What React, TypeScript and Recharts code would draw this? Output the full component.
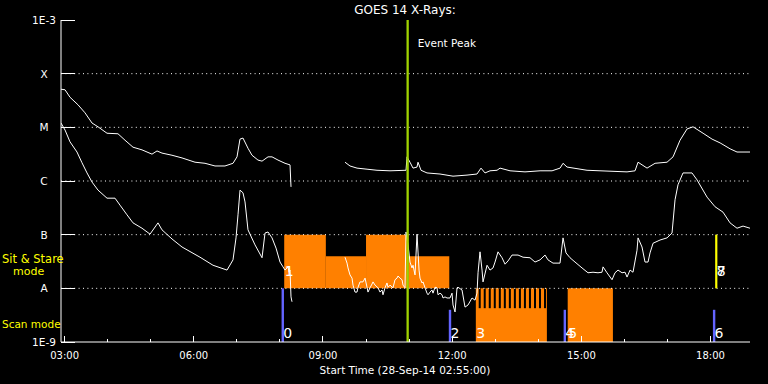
import React from 'react';
import {
  ComposedChart,
  Line,
  XAxis,
  YAxis,
  ReferenceArea,
  ReferenceLine,
  ReferenceDot,
} from 'recharts';

// GOES 14 X-ray flux, [hour UT, log10 flux W/m^2], 28-Sep-14
const longChannel: [number, number | null][] = [
  [2.917, -4.29], [3.01, -4.3], [3.126, -4.44], [3.311, -4.58], [3.474, -4.73], [3.637, -4.92],
  [3.776, -4.99], [3.985, -5.11], [4.24, -5.12], [4.403, -5.24], [4.589, -5.37], [4.798, -5.42],
  [5.03, -5.5], [5.146, -5.44], [5.262, -5.48], [5.494, -5.52], [5.727, -5.57], [6.029, -5.65],
  [6.261, -5.67], [6.493, -5.72], [6.725, -5.72], [6.911, -5.67], [7.004, -5.55], [7.073, -5.22],
  [7.143, -5.2], [7.259, -5.39], [7.352, -5.52], [7.491, -5.61], [7.585, -5.63], [7.724, -5.55],
  [7.817, -5.55], [7.956, -5.61], [8.119, -5.67], [8.235, -5.7], [8.258, -6.11], [8.9, null],
  [9.512, -5.65], [9.628, -5.72], [9.791, -5.76], [10.023, -5.78], [10.255, -5.8], [10.557, -5.81],
  [10.929, -5.8], [10.952, -5.55], [11.021, -5.65], [11.091, -5.76], [11.184, -5.74], [11.207, -5.65],
  [11.277, -5.8], [11.416, -5.85], [11.718, -5.87], [12.02, -5.91], [12.345, -5.89], [12.577, -5.87],
  [12.67, -5.76], [12.763, -5.85], [12.879, -5.81], [13.042, -5.8], [13.112, -5.76], [13.344, -5.81],
  [13.692, -5.83], [14.041, -5.81], [14.32, -5.81], [14.506, -5.76], [14.575, -5.67], [14.668, -5.74],
  [15.132, -5.8], [16.061, -5.83], [16.247, -5.81], [16.317, -5.65], [16.526, -5.76], [16.712, -5.67],
  [16.99, -5.65], [17.13, -5.55], [17.292, -5.24], [17.455, -5.03], [17.594, -4.99], [17.827, -5.11],
  [18.036, -5.22], [18.222, -5.29], [18.454, -5.4], [18.615, -5.46], [18.917, -5.46],
];

const shortChannel: [number, number | null][] = [
  [2.917, -4.92], [3.01, -5.05], [3.126, -5.27], [3.288, -5.46], [3.404, -5.66], [3.521, -5.85],
  [3.637, -6.02], [3.776, -6.17], [3.985, -6.32], [4.171, -6.32], [4.287, -6.45], [4.449, -6.63],
  [4.589, -6.78], [4.798, -6.88], [4.984, -6.99], [5.169, -6.78], [5.262, -6.91], [5.494, -7.08],
  [5.727, -7.23], [6.145, -7.42], [6.447, -7.57], [6.772, -7.66], [6.911, -7.47], [6.981, -7.06],
  [7.027, -6.63], [7.074, -6.17], [7.143, -6.22], [7.19, -6.39], [7.259, -6.91], [7.422, -7.19],
  [7.585, -7.43], [7.654, -6.97], [7.724, -6.95], [7.817, -7.06], [7.91, -7.25], [8.003, -7.51],
  [8.072, -7.6], [8.119, -7.66], [8.188, -7.6], [8.212, -7.7], [8.235, -7.66], [8.258, -8.16],
  [8.281, -8.25], [8.9, null],
  [9.512, -7.42], [9.559, -7.53], [9.582, -7.62], [9.628, -7.75], [9.675, -7.81], [9.698, -7.94],
  [9.744, -8.07], [9.791, -8.07], [9.814, -7.98], [9.86, -7.88], [9.93, -7.88], [9.977, -7.81],
  [10.023, -7.98], [10.046, -8.07], [10.093, -7.99], [10.139, -7.92], [10.162, -7.88], [10.209, -7.94],
  [10.278, -7.99], [10.325, -8.07], [10.371, -8.03], [10.394, -8.12], [10.441, -7.99], [10.487, -7.9],
  [10.511, -7.98], [10.557, -7.94], [10.627, -7.99], [10.673, -7.84], [10.72, -7.81], [10.743, -7.77],
  [10.789, -7.81], [10.836, -7.84], [10.859, -7.94], [10.905, -7.99], [10.929, -6.95], [10.975, -7.19],
  [11.021, -7.51], [11.068, -7.62], [11.091, -7.57], [11.138, -7.75], [11.184, -6.99], [11.231, -7.66],
  [11.254, -7.81], [11.3, -7.9], [11.324, -7.88], [11.37, -7.99], [11.416, -8.09], [11.44, -8.12],
  [11.486, -8.07], [11.532, -8.03], [11.556, -8.09], [11.602, -7.98], [11.649, -7.99], [11.672, -8.12],
  [11.718, -8.09], [11.765, -8.12], [11.788, -8.18], [11.834, -8.16], [11.881, -8.18], [11.95, -8.18],
  [11.997, -8.09], [12.02, -8.31], [12.067, -8.44], [12.113, -7.99], [12.136, -7.98], [12.229, -8.03],
  [12.299, -8.35], [12.369, -8.31], [12.461, -8.18], [12.531, -8.22], [12.577, -8.09], [12.601, -7.71],
  [12.647, -7.32], [12.694, -7.66], [12.717, -7.88], [12.81, -7.57], [12.879, -7.66], [12.949, -7.62],
  [12.996, -7.51], [13.065, -7.32], [13.158, -7.43], [13.228, -7.55], [13.298, -7.49], [13.39, -7.38],
  [13.53, -7.38], [13.646, -7.42], [13.808, -7.43], [13.924, -7.51], [14.041, -7.47], [14.157, -7.38],
  [14.226, -7.47], [14.342, -7.53], [14.505, -7.53], [14.575, -7.06], [14.644, -7.34], [14.737, -7.43],
  [14.853, -7.51], [15.016, -7.62], [15.155, -7.71], [15.271, -7.7], [15.387, -7.71], [15.48, -7.7],
  [15.504, -7.6], [15.596, -7.71], [15.713, -7.84], [15.782, -7.71], [15.852, -7.66], [15.945, -7.71],
  [16.015, -7.7], [16.061, -7.79], [16.131, -7.66], [16.2, -7.7], [16.293, -7.29], [16.317, -7.06],
  [16.409, -7.23], [16.479, -7.51], [16.549, -7.51], [16.595, -7.34], [16.665, -7.16], [16.827, -7.1],
  [16.99, -7.06], [17.106, -6.97], [17.176, -6.35], [17.245, -6.07], [17.361, -5.85], [17.57, -5.85],
  [17.687, -5.98], [17.919, -6.3], [18.105, -6.48], [18.29, -6.58], [18.453, -6.78], [18.615, -6.88],
  [18.755, -6.84], [18.917, -6.88],
];

const startHour = 2 + 55 / 60;
const endHour = startHour + 16;
const hourTicks = [3, 4, 5, 6, 7, 8, 9, 10, 11, 12, 13, 14, 15, 16, 17, 18];
const majorHours = [3, 6, 9, 12, 15, 18];
const hourLabels = ['03:00', '06:00', '09:00', '12:00', '15:00', '18:00'];

const decades = [-9, -8, -7, -6, -5, -4, -3];
const decadeLabels = ['1E-9', 'A', 'B', 'C', 'M', 'X', '1E-3'];
const gridDecades = [-8, -7, -6, -5, -4];

const eventPeak = '10:58';

// sit & stare band sits between A and B, scan band between 1E-9 and A
const sitStareBlocks = [
  { start: '08:06', end: '09:04', top: -7 },
  { start: '09:04', end: '10:00', top: -7.4 },
  { start: '10:00', end: '10:59', top: -7 },
  { start: '10:59', end: '11:56', top: -7.4 },
];
const sitStareMarks = ['18:08'];
const scanBlocks = [
  { start: '12:33', end: '14:12' },
  { start: '14:41', end: '15:44' },
];
const scanGaps = [
  '12:37', '12:44', '12:51', '12:58', '13:05', '13:12', '13:19',
  '13:26', '13:33', '13:40', '13:47', '13:54', '14:01', '14:08',
];
const scanMarks = [
  { at: '08:04', top: -8 },
  { at: '11:57', top: -8.4 },
  { at: '14:37', top: -8.4 },
  { at: '18:05', top: -8.4 },
];
const scanLabels = [
  { text: '0', at: '08:04' },
  { text: '2', at: '11:57' },
  { text: '3', at: '12:33' },
  { text: '4', at: '14:37' },
  { text: '5', at: '14:41' },
  { text: '6', at: '18:05' },
];
const sitStareLabels = [
  { text: '1', at: '08:06' },
  { text: '7', at: '18:08' },
  { text: '8', at: '18:08' },
];

const FONT = '"DejaVu Sans", Verdana, sans-serif';
const ORANGE = '#ff8000';
const BLUE = '#6464ff';
const GREEN = '#a0d200';
const YELLOW = '#ffff00';

const toHours = (hm: string) => {
  const [h, m] = hm.split(':').map(Number);
  return h + m / 60;
};

const toPoints = (rows: [number, number | null][]) => rows.map(([t, v]) => ({ t, v }));

const BottomTick = (props: any) => {
  const { x, y, payload } = props;
  const idx = majorHours.indexOf(payload.value);
  return (
    <g>
      <line x1={x} x2={x} y1={y} y2={y - (idx >= 0 ? 6 : 3)} stroke="#fff" shapeRendering="crispEdges" />
      {idx >= 0 && (
        <text x={x} y={y + 17} textAnchor="middle" fill="#fff" fontSize={10} fontFamily={FONT}>
          {hourLabels[idx]}
        </text>
      )}
    </g>
  );
};

const TopTick = (props: any) => {
  const { x, y, payload } = props;
  const major = majorHours.includes(payload.value);
  return <line x1={x} x2={x} y1={y} y2={y + (major ? 6 : 3)} stroke="#fff" shapeRendering="crispEdges" />;
};

const LeftTick = (props: any) => {
  const { x, y, payload } = props;
  const idx = decades.indexOf(payload.value);
  return (
    <g>
      <line x1={x} x2={x + 14} y1={y} y2={y} stroke="#fff" shapeRendering="crispEdges" />
      <text x={x - 17} y={y + 4} textAnchor="middle" fill="#fff" fontSize={10.5} fontFamily={FONT}>
        {decadeLabels[idx]}
      </text>
    </g>
  );
};

const RightTick = (props: any) => {
  const { x, y } = props;
  return <line x1={x - 13} x2={x} y1={y} y2={y} stroke="#fff" shapeRendering="crispEdges" />;
};

const digitLabel = (text: string, rise: number) => (props: any) => {
  const { viewBox } = props;
  return (
    <text x={viewBox.x + 0.5} y={viewBox.y - rise} fill="#fff" fontSize={14} fontFamily={FONT}>
      {text}
    </text>
  );
};

const eventLabel = (props: any) => {
  const { viewBox } = props;
  return (
    <text x={viewBox.x + 10} y={viewBox.y + 27} fill="#fff" fontSize={10.5} fontFamily={FONT}>
      Event Peak
    </text>
  );
};

export default function App() {
  const longData = toPoints(longChannel);
  const shortData = toPoints(shortChannel);
  return (
    <div style={{ position: 'absolute', left: 0, top: 0, width: 768, height: 384, background: '#000' }}>
      <ComposedChart width={768} height={384} margin={{ top: 20, right: 18, bottom: 12, left: 11 }}>
        <XAxis
          dataKey="t"
          type="number"
          domain={[startHour, endHour]}
          ticks={hourTicks}
          interval={0}
          allowDataOverflow
          height={30}
          tickSize={0}
          tickMargin={0}
          tickLine={false}
          tick={<BottomTick />}
          axisLine={{ stroke: '#fff' }}
        />
        <XAxis
          xAxisId="top"
          orientation="top"
          type="number"
          domain={[startHour, endHour]}
          ticks={hourTicks}
          interval={0}
          allowDataOverflow
          height={0}
          tickSize={0}
          tickMargin={0}
          tickLine={false}
          tick={<TopTick />}
          axisLine={{ stroke: '#fff' }}
        />
        <YAxis
          type="number"
          domain={[-9, -3]}
          ticks={decades}
          interval={0}
          allowDataOverflow
          width={50}
          tickSize={0}
          tickMargin={0}
          tickLine={false}
          tick={<LeftTick />}
          axisLine={{ stroke: '#fff' }}
        />
        <YAxis
          yAxisId="right"
          orientation="right"
          type="number"
          domain={[-9, -3]}
          ticks={decades}
          interval={0}
          allowDataOverflow
          width={0}
          tickSize={0}
          tickMargin={0}
          tickLine={false}
          tick={<RightTick />}
          axisLine={{ stroke: '#fff' }}
        />

        {sitStareBlocks.map((b) => (
          <ReferenceArea
            key={'ss' + b.start}
            x1={toHours(b.start)}
            x2={toHours(b.end)}
            y1={-8}
            y2={b.top}
            fill={ORANGE}
            fillOpacity={1}
            stroke="none"
          />
        ))}
        {scanBlocks.map((b) => (
          <ReferenceArea
            key={'sc' + b.start}
            x1={toHours(b.start)}
            x2={toHours(b.end)}
            y1={-9}
            y2={-8}
            fill={ORANGE}
            fillOpacity={1}
            stroke="none"
          />
        ))}
        {scanGaps.map((g) => (
          <ReferenceArea
            key={'gap' + g}
            x1={toHours(g)}
            x2={toHours(g) + 2.8 / 60}
            y1={-8.37}
            y2={-8}
            fill="#000"
            fillOpacity={1}
            stroke="none"
          />
        ))}

        {gridDecades.map((d) => (
          <ReferenceLine key={'g' + d} y={d} stroke="#fff" strokeDasharray="1 3.4" />
        ))}

        <Line
          data={longData}
          dataKey="v"
          type="linear"
          stroke="#fff"
          strokeWidth={1}
          dot={false}
          connectNulls={false}
          isAnimationActive={false}
        />
        <Line
          data={shortData}
          dataKey="v"
          type="linear"
          stroke="#fff"
          strokeWidth={1}
          dot={false}
          connectNulls={false}
          isAnimationActive={false}
        />

        {scanMarks.map((m) => (
          <ReferenceLine
            key={'sm' + m.at}
            segment={[
              { x: toHours(m.at), y: -9 },
              { x: toHours(m.at), y: m.top },
            ]}
            stroke={BLUE}
            strokeWidth={2.4}
          />
        ))}
        {sitStareMarks.map((m) => (
          <ReferenceLine
            key={'ssm' + m}
            segment={[
              { x: toHours(m), y: -8 },
              { x: toHours(m), y: -7 },
            ]}
            stroke={YELLOW}
            strokeWidth={2.2}
          />
        ))}
        <ReferenceLine x={toHours(eventPeak)} stroke={GREEN} strokeWidth={2.3} label={eventLabel} />

        {scanLabels.map((l) => (
          <ReferenceDot
            key={'sl' + l.text}
            x={toHours(l.at)}
            y={-9}
            r={0}
            fill="none"
            stroke="none"
            label={digitLabel(l.text, 4)}
          />
        ))}
        {sitStareLabels.map((l) => (
          <ReferenceDot
            key={'stl' + l.text}
            x={toHours(l.at)}
            y={-8}
            r={0}
            fill="none"
            stroke="none"
            label={digitLabel(l.text, 12)}
          />
        ))}
      </ComposedChart>

      <svg
        width={768}
        height={384}
        style={{ position: 'absolute', left: 0, top: 0, pointerEvents: 'none' }}
        fontFamily={FONT}
      >
        <text x={405} y={14} textAnchor="middle" fill="#fff" fontSize={12}>
          GOES 14 X-Rays:
        </text>
        <text x={405} y={374} textAnchor="middle" fill="#fff" fontSize={10.5}>
          Start Time (28-Sep-14 02:55:00)
        </text>
        <text x={2} y={263} fill={YELLOW} fontSize={11.5}>
          Sit &amp; Stare
        </text>
        <text x={13} y={275} fill={YELLOW} fontSize={11}>
          mode
        </text>
        <text x={2} y={328} fill={YELLOW} fontSize={10.5}>
          Scan mode
        </text>
      </svg>
    </div>
  );
}
